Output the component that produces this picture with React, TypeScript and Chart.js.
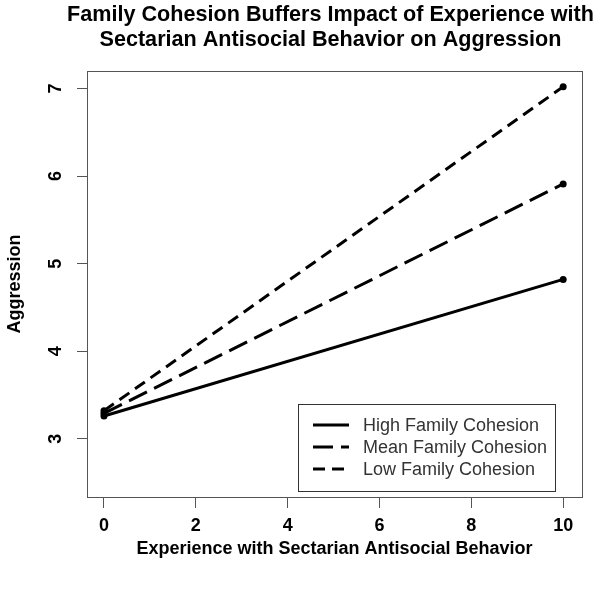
import React, { useEffect, useRef } from "react";
import { Chart, registerables } from "chart.js";

Chart.register(...registerables);

const TITLE_LINES = [
  "Family Cohesion Buffers Impact of Experience with",
  "Sectarian Antisocial Behavior on Aggression",
];
const X_LABEL = "Experience with Sectarian Antisocial Behavior";
const Y_LABEL = "Aggression";

const X_VALUES = [0, 10];
const HIGH = [3.26, 4.82];
const MEAN = [3.29, 5.91];
const LOW = [3.32, 7.02];
const SERIES_NAMES = ["High Family Cohesion", "Mean Family Cohesion", "Low Family Cohesion"];
const X_TICKS = [0, 2, 4, 6, 8, 10];
const Y_TICKS = [3, 4, 5, 6, 7];

const FONT = "'Liberation Sans', Arial, sans-serif";
const DASHES: number[][] = [[], [20, 8], [12, 7]];

const overlay = {
  id: "rOverlay",
  afterDraw(chart: any) {
    const { ctx, chartArea: a, scales } = chart;
    ctx.save();
    // box
    ctx.strokeStyle = "#555";
    ctx.lineWidth = 1;
    ctx.strokeRect(Math.round(a.left) + 0.5, Math.round(a.top) + 0.5, Math.round(a.right - a.left), Math.round(a.bottom - a.top));
    // title
    ctx.fillStyle = "#000";
    ctx.textAlign = "center";
    ctx.textBaseline = "middle";
    ctx.font = `bold 21.6px ${FONT}`;
    const cx = (a.left + a.right) / 2 - 4;
    ctx.fillText(TITLE_LINES[0], cx, 15);
    ctx.fillText(TITLE_LINES[1], cx, 40);
    // x label
    ctx.font = `bold 18px ${FONT}`;
    ctx.fillText(X_LABEL, (a.left + a.right) / 2, 549);
    // y label
    ctx.save();
    ctx.translate(15, (a.top + a.bottom) / 2);
    ctx.rotate(-Math.PI / 2);
    ctx.fillText(Y_LABEL, 0, 0);
    ctx.restore();
    // y tick labels rotated
    const ys = scales.y;
    ctx.font = `bold 18px ${FONT}`;
    for (const v of Y_TICKS) {
      const py = ys.getPixelForValue(v);
      ctx.save();
      ctx.translate(56, py);
      ctx.rotate(-Math.PI / 2);
      ctx.fillText(String(v), 0, 0);
      ctx.restore();
    }
    // legend
    const lx = 298, ly = 404, lw = 257, lh = 87;
    ctx.strokeStyle = "#333";
    ctx.strokeRect(lx + 0.5, ly + 0.5, lw, lh);
    ctx.font = `18px ${FONT}`;
    ctx.textAlign = "left";
    ctx.fillStyle = "#333";
    const rows = [425, 447, 469];
    SERIES_NAMES.forEach((name, i) => {
      ctx.save();
      ctx.strokeStyle = "#000";
      ctx.lineWidth = 3;
      ctx.setLineDash(DASHES[i]);
      ctx.beginPath();
      ctx.moveTo(313, rows[i]);
      ctx.lineTo(349, rows[i]);
      ctx.stroke();
      ctx.restore();
      ctx.fillText(name, 363, rows[i] + 1);
    });
    ctx.restore();
  },
};

export default function App() {
  const ref = useRef<HTMLCanvasElement>(null);
  useEffect(() => {
    document.body.style.margin = "0";
    const mk = (vals: number[]) => X_VALUES.map((x, i) => ({ x, y: vals[i] }));
    const chart = new Chart(ref.current!, {
      type: "line",
      data: {
        datasets: [HIGH, MEAN, LOW].map((vals, i) => ({
          label: SERIES_NAMES[i],
          data: mk(vals),
          borderColor: "#000",
          backgroundColor: "#000",
          borderWidth: 3,
          borderDash: DASHES[i],
          pointRadius: 3.5,
          pointBorderWidth: 0,
          pointBackgroundColor: "#000",
          fill: false,
          tension: 0,
        })),
      },
      options: {
        animation: false,
        responsive: false,
        layout: { padding: { left: 0, top: 71, right: 19, bottom: 0 } },
        plugins: { legend: { display: false }, title: { display: false }, tooltip: { enabled: false } },
        scales: {
          x: {
            type: "linear",
            min: -0.37,
            max: 10.41,
            afterBuildTicks: (s: any) => { s.ticks = X_TICKS.map((v) => ({ value: v })); },
            afterFit: (s: any) => { s.height = 93; },
            grid: { drawOnChartArea: false, drawTicks: true, tickLength: 11, color: "#555" },
            border: { display: true, color: "#555" },
            ticks: { color: "#000", font: { family: FONT, size: 18, weight: "bold" }, padding: 7, maxRotation: 0 },
          },
          y: {
            type: "linear",
            min: 2.335,
            max: 7.2,
            afterBuildTicks: (s: any) => { s.ticks = Y_TICKS.map((v) => ({ value: v })); },
            afterFit: (s: any) => { s.width = 87; },
            grid: { drawOnChartArea: false, drawTicks: true, tickLength: 10, color: "#555" },
            border: { display: true, color: "#555" },
            ticks: { display: false },
          },
        },
      },
      plugins: [overlay],
    });
    return () => chart.destroy();
  }, []);
  return (
    <div style={{ position: "fixed", left: 0, top: 0, width: 601, height: 590, background: "#fff" }}>
      <canvas ref={ref} width={601} height={590} />
    </div>
  );
}
